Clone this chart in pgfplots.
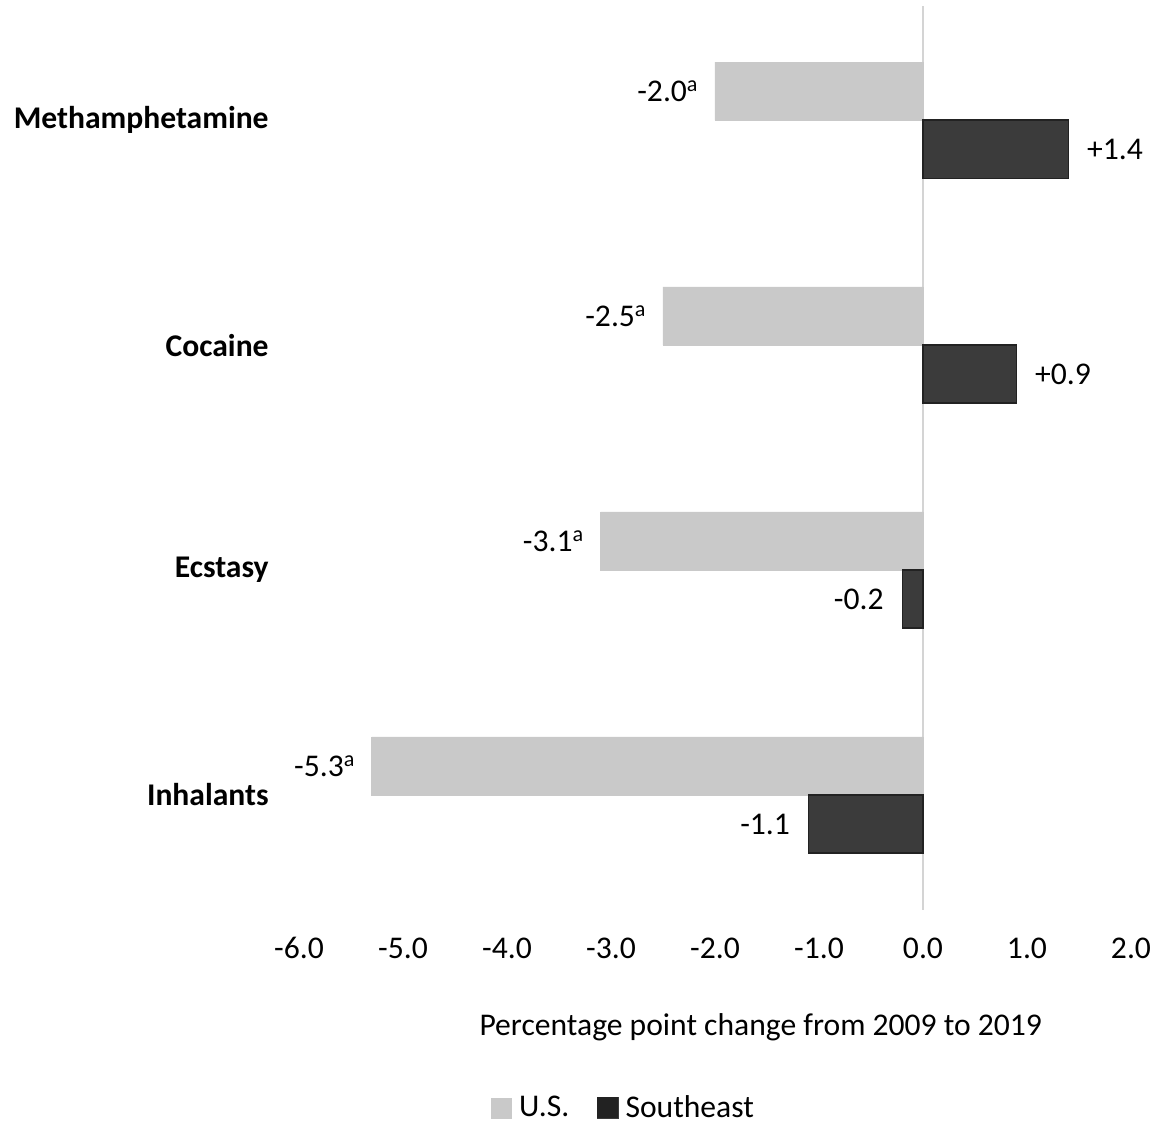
\documentclass[border=0pt]{standalone}
\usepackage{pgfplots}
\usepackage{pgfplotstable}
\pgfplotsset{compat=1.18}
\usepackage{fontspec}
\setmainfont{Carlito}
\definecolor{usgray}{HTML}{C9C9C9}
\definecolor{sedark}{HTML}{3B3B3B}
\definecolor{sedraw}{HTML}{222222}
\definecolor{zeroline}{HTML}{D4D4D4}
\pgfplotstableread{
x y label
-2.0 3 {-2.0\textsuperscript{a}}
-2.5 2 {-2.5\textsuperscript{a}}
-3.1 1 {-3.1\textsuperscript{a}}
-5.3 0 {-5.3\textsuperscript{a}}
}\usdata
\pgfplotstableread{
x y label
1.4 3 {+1.4}
0.9 2 {+0.9}
}\sepos
\pgfplotstableread{
x y label
-0.2 1 {-0.2}
-1.1 0 {-1.1}
}\seneg
\begin{document}
\begin{tikzpicture}
\useasboundingbox (-149.5pt,-109pt) rectangle (434.5pt,455pt);
\begin{axis}[
  at={(0,0)}, anchor=south west,
  scale only axis,
  width=416pt, height=452pt,
  xbar, clip=false,
  xmin=-6, xmax=2,
  ymin=-0.511, ymax=3.507,
  font=\fontsize{15.8}{19}\selectfont,
  axis line style={draw=none},
  major tick length=0pt,
  xtick={-6,-5,-4,-3,-2,-1,0,1,2},
  xticklabels={-6.0,-5.0,-4.0,-3.0,-2.0,-1.0,0.0,1.0,2.0},
  xticklabel style={anchor=center, yshift=-19pt},
  ytick={0,1,2,3},
  yticklabels={Inhalants,Ecstasy,Cocaine,Methamphetamine},
  yticklabel style={anchor=east, inner xsep=0pt, xshift=-15pt, font=\fontsize{15.8}{19}\selectfont\bfseries},
  xlabel={Percentage point change from 2009 to 2019},
  xlabel style={at={(rel axis cs:0.555,0)}, anchor=center, yshift=-58.5pt},
  bar width=0.258,
  point meta=explicit symbolic,
  legend style={draw=none, fill=none, legend columns=2, at={(rel axis cs:0.3914,0)}, anchor=center, yshift=-99pt,
    font=\fontsize{15.8}{19}\selectfont,
    /tikz/every odd column/.append style={column sep=1.5pt},
    /tikz/every even column/.append style={column sep=12pt},
    legend cell align=left},
]
\draw[color=zeroline, line width=1pt] (axis cs:0,-0.511) -- (axis cs:0,3.507);
\addplot[fill=usgray, draw=usgray, bar shift=0.129,
  nodes near coords,
  every node near coord/.append style={anchor=east, inner xsep=8pt, font=\fontsize{15.8}{19}\selectfont, text=black},
  legend image code/.code={\fill[usgray] (0pt,-5pt) rectangle (10pt,5pt);}]
  table[x=x, y=y, meta=label] {\usdata};
\addlegendentry{U.S.}
\addplot[fill=sedark, draw=sedraw, line width=0.6pt, bar shift=-0.129,
  nodes near coords,
  every node near coord/.append style={anchor=west, inner xsep=9pt, font=\fontsize{15.8}{19}\selectfont, text=black},
  legend image code/.code={\fill[sedark] (0pt,-5pt) rectangle (10pt,5pt); \draw[sedraw,line width=0.5pt] (0pt,-5pt) rectangle (10pt,5pt);}]
  table[x=x, y=y, meta=label] {\sepos};
\addlegendentry{Southeast}
\addplot[forget plot, fill=sedark, draw=sedraw, line width=0.6pt, bar shift=-0.129,
  nodes near coords,
  every node near coord/.append style={anchor=east, inner xsep=9pt, font=\fontsize{15.8}{19}\selectfont, text=black}]
  table[x=x, y=y, meta=label] {\seneg};
\end{axis}
\end{tikzpicture}
\end{document}
